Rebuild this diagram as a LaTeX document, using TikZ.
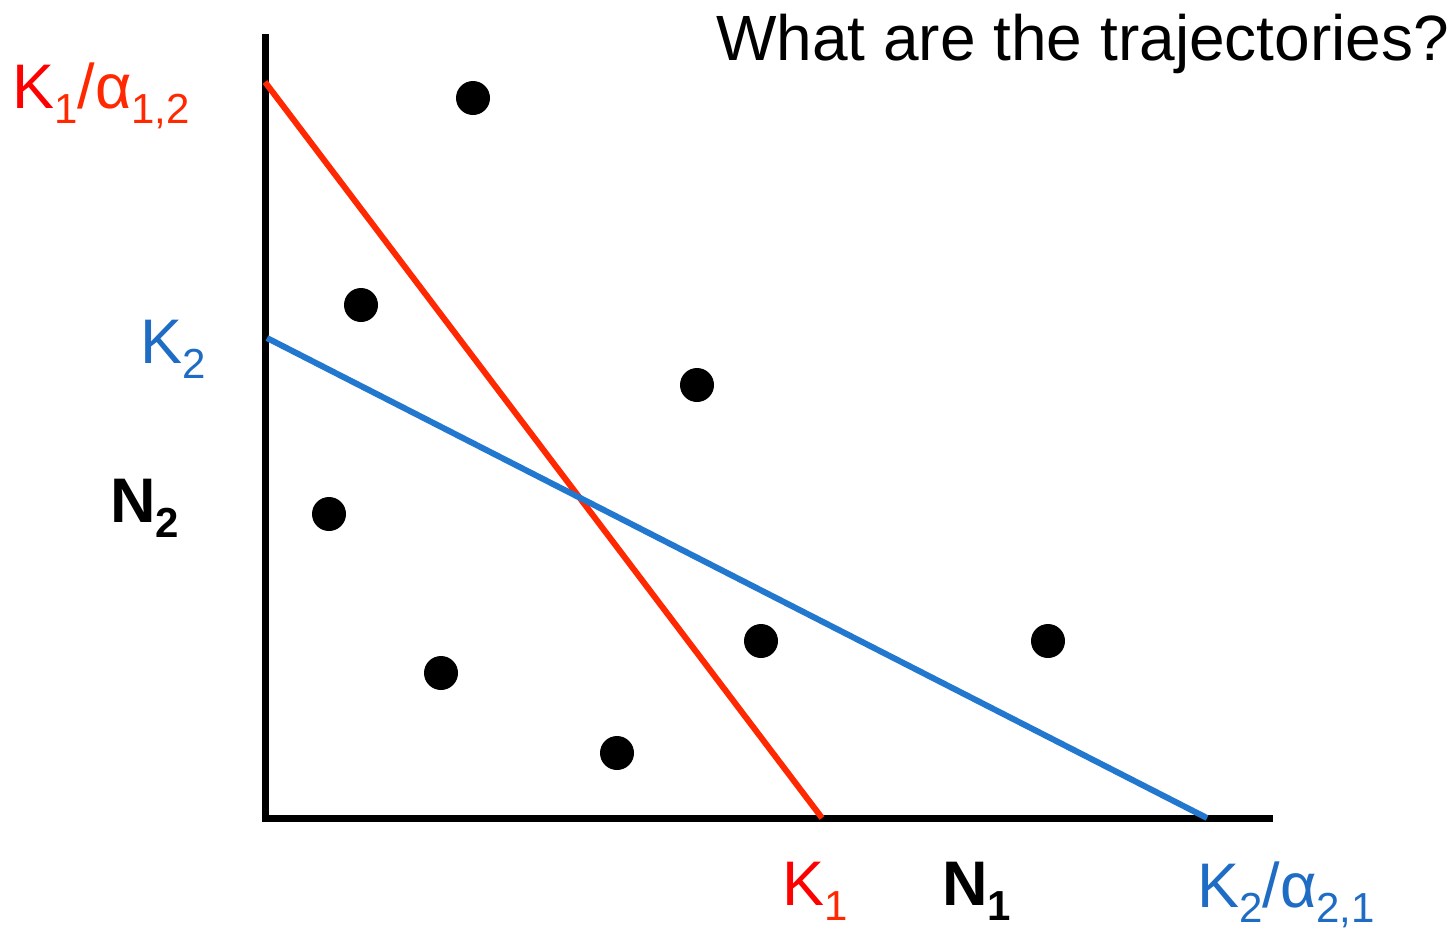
\documentclass[tikz,border=0pt]{standalone}
\usepackage{fontspec}
\setmainfont{Liberation Sans}
\definecolor{kred}{RGB}{255,0,0}
\definecolor{lred}{RGB}{255,40,0}
\definecolor{kblue}{RGB}{30,108,196}
\definecolor{lblue}{RGB}{34,120,206}
\newcommand{\sbx}[1]{\raisebox{-15pt}{\fontsize{42}{42}\selectfont #1}}
\tikzset{
  lbl/.style={anchor=base west, inner sep=0pt, font=\fontsize{63}{70}\selectfont},
  axis/.style={line width=7pt, black},
  dot/.style={circle, fill=black, minimum size=34pt, inner sep=0pt},
}
\begin{document}
\begin{tikzpicture}[x=1pt,y=-1pt]
\useasboundingbox (0,0) rectangle (1454,927);
% axes
\coordinate (ytop) at (265,34);
\coordinate (orig) at (265,818);
\coordinate (xend) at (1273,818);
\draw[axis] (ytop) -- (orig) -- (xend);
% isoclines
\coordinate (r1) at (265,82);
\coordinate (r2) at (822,818);
\coordinate (b1) at (267,338);
\coordinate (b2) at (1207,818);
\draw[lred, line width=6pt] (r1) -- (r2);
\draw[lblue, line width=6pt] (b1) -- (b2);
% dots
\node[dot] (d1) at (473,98) {};
\node[dot] (d2) at (361,305) {};
\node[dot] (d3) at (697,385) {};
\node[dot] (d4) at (329,514) {};
\node[dot] (d5) at (761,641) {};
\node[dot] (d6) at (1048,641) {};
\node[dot] (d7) at (441,673) {};
\node[dot] (d8) at (617,753) {};
% labels
\node[lbl, font=\fontsize{64}{70}\selectfont] (title) at (716,60) {What are the trajectories?};
\node[lbl, text=lred] (lk1a) at (12,108) {\textcolor{kred}{K}\sbx{1}/α\sbx{1,2}};
\node[lbl, text=kblue] (lk2) at (140,363) {K\sbx{2}};
\node[lbl, font=\fontsize{63}{70}\selectfont\bfseries] (ln2) at (110,522) {N\sbx{2}};
\node[lbl, text=lred] (lk1) at (782,905) {\textcolor{kred}{K}\sbx{1}};
\node[lbl, font=\fontsize{63}{70}\selectfont\bfseries] (ln1) at (942,905) {N\sbx{1}};
\node[lbl, text=kblue] (lk2a) at (1197,907) {K\sbx{2}/α\sbx{2,1}};
\end{tikzpicture}
\end{document}
